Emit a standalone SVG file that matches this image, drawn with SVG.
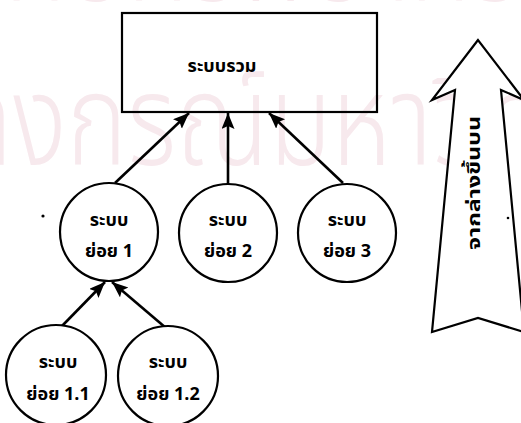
<svg xmlns="http://www.w3.org/2000/svg" width="521" height="423" viewBox="0 0 521 423">
  <style>
    .wm { font-family: "Noto Sans Thai", "Noto Sans", "DejaVu Sans", sans-serif; font-size: 128px; font-weight: 300; fill: #f7e9ed; }
    .box { fill: none; stroke: #000; stroke-width: 2.2; }
    .node { fill: #fff; stroke: #000; stroke-width: 2.2; }
    .lbl { font-family: "Noto Sans Thai", "Noto Sans", "DejaVu Sans", sans-serif; font-size: 18px; font-weight: bold; fill: #000; text-anchor: middle; }
    .edge { stroke: #000; stroke-width: 2.6; fill: none; marker-end: url(#head); }
  </style>
  <defs>
    <marker id="head" markerUnits="userSpaceOnUse" markerWidth="17" markerHeight="14" refX="16" refY="6.5" orient="auto">
      <path d="M0,0 L16,6.5 L0,13 L3,6.5 Z" fill="#000"/>
    </marker>
  </defs>

  <rect width="521" height="423" fill="#fff"/>

  <!-- background watermark -->
  <g id="watermark" transform="scale(0.8 1)">
    <text class="wm" x="650" y="1" text-anchor="end">ศูนย์วิทยทรัพยากร</text>
    <text class="wm" x="-260" y="165">จุฬาลงกรณ์มหาวิทยาลัย</text>
  </g>

  <g id="connectors">
    <line class="edge" x1="115" y1="183" x2="189" y2="113"/>
    <line class="edge" x1="228" y1="184" x2="228" y2="113"/>
    <line class="edge" x1="343" y1="183" x2="269" y2="113"/>
    <line class="edge" x1="62" y1="326" x2="105" y2="282"/>
    <line class="edge" x1="166" y1="328" x2="112" y2="282"/>
  </g>

  <g id="root">
    <rect class="box" x="122" y="13" width="255" height="99"/>
    <text class="lbl" x="222" y="72" font-size="20">ระบบรวม</text>
  </g>

  <g id="sub1">
    <circle class="node" cx="109" cy="232" r="49"/>
    <text class="lbl" x="109" y="226">ระบบ</text>
    <text class="lbl" x="109" y="257">ย่อย 1</text>
  </g>
  <g id="sub2">
    <circle class="node" cx="228" cy="233" r="49"/>
    <text class="lbl" x="228" y="226">ระบบ</text>
    <text class="lbl" x="228" y="257">ย่อย 2</text>
  </g>
  <g id="sub3">
    <circle class="node" cx="347" cy="233" r="49"/>
    <text class="lbl" x="347" y="226">ระบบ</text>
    <text class="lbl" x="347" y="257">ย่อย 3</text>
  </g>
  <g id="sub1-1">
    <circle class="node" cx="56" cy="375" r="50"/>
    <text class="lbl" x="58" y="368">ระบบ</text>
    <text class="lbl" x="58" y="400">ย่อย 1.1</text>
  </g>
  <g id="sub1-2">
    <circle class="node" cx="168" cy="376" r="50"/>
    <text class="lbl" x="168" y="368">ระบบ</text>
    <text class="lbl" x="168" y="400">ย่อย 1.2</text>
  </g>

  <!-- direction arrow: bottom to top -->
  <g id="direction">
    <path class="node" d="M478,40 L432,100 L455,90 L432,332 L478,318 L524,332 L501,90 L524,100 Z"/>
    <text class="lbl" transform="translate(480,183) rotate(-90)" font-size="21" textLength="134" lengthAdjust="spacingAndGlyphs">จากล่างขึ้นบน</text>
  </g>

  <circle cx="43" cy="216" r="1.6" fill="#000"/>
  <circle cx="508" cy="218" r="1.3" fill="#000"/>
</svg>
